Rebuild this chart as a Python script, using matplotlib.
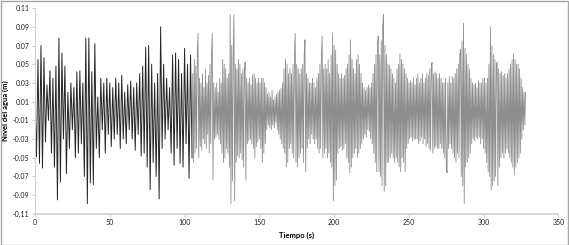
import numpy as np
import matplotlib
matplotlib.use("Agg")
import matplotlib.pyplot as plt
from matplotlib.patches import Rectangle

# water level in mm, first part sampled every 1 s (t = 0..104)
level_a = [10, -49, 55, -56, 70, -61, 57, -33, 28, -10,
           43, -45, 35, -60, 48, -95, 78, -76, 62, -30,
           48, -67, 20, -40, 30, -20, 25, -50, 42, -45,
           43, -35, 30, -70, 78, -99, 78, -77, 42, -79,
           72, -40, 15, -50, 35, -20, 30, -45, 35, -25,
           30, -38, 25, -30, 35, -25, 30, -40, 38, -30,
           20, -35, 28, -20, 32, -30, 25, -42, 30, -25,
           40, -48, 48, -45, 68, -60, 70, -84, 50, -55,
           30, -70, 40, -94, 90, -40, 50, -30, 35, -20,
           25, -45, 60, -58, 62, -40, 55, -56, 40, -60,
           67, -35, 50, -72, 60]

# second part sampled every 0.5 s, one list per chunk
level_b1 = [-50, 40, -55, 55, -45, 48, -40, 60, 83, -50,
            35, -38, 30, -42, 40, -30, 25, -35, 45, -40,
            30, -25, 38, -45, 50, -35, 60, 83, -74, 30,
            -30, 25, -28, 30, -25, 20, -30, 35, -35, 30,
            -45, 55, -55, 50, -50, 45, -40, 35, -45, 40,
            -60, 103, -99, 70, -75, 60, 103, -96, 50, -55,
            45, -48, 55, -50, 50, -45, 40, -52, 45, -60,
            40, 52, -74, 35, -35, 30, -32, 35, -30, 28,
            -35, 38, -40, 40, -50, 35, -38, 30, -33, 35,
            -30, 30, -40, 35, -55, 35, -45, 30, -35, 25]
level_b2 = [-20, 18, -15, 20, -18, 15, -20, 22, -15, 12,
            -18, 15, -12, 18, -20, 20, -25, 22, -30, 24,
            -35, 30, -40, 45, -45, 56, -60, 50, -55, 40,
            -40, 45, -35, 40, -45, 50, -50, 60, 83, -55,
            50, -60, 45, -50, 40, -45, 45, -40, 50, -55,
            60, 76, -65, 40, -40, 35, -30, 30, -35, 30,
            -25, 35, -30, 30, -35, 25, -30, 35, -40, 40,
            -45, 50, -40, 60, 80, -50, 45, -45, 50, -40,
            45, -50, 55, -45, 40, -55, 60, -60, 83, -96,
            70, -80, 65, -74, 50, -45, 40, -40, 35, -38]
level_b3 = [40, -42, 35, -40, 38, -35, 45, -50, 50, -55,
            60, -66, 76, -60, 55, -50, 45, -45, 40, -40,
            55, -50, 60, -45, 50, -40, 40, -35, 30, -30,
            25, -25, 22, -28, 25, -20, 28, -22, 25, -30,
            30, -35, 40, -45, 50, -55, 60, -65, 70, 80,
            -65, 60, -70, 75, -80, 90, 103, -86, 70, -80,
            60, -55, 50, -55, 49, -50, 45, -45, 40, -50,
            35, -55, 30, -50, 45, -55, 50, -60, 61, -65,
            55, -50, 50, -55, 45, -65, 40, -40, 35, -35,
            30, -30, 32, -28, 30, -32, 35, -30, 28, -30]
level_b4 = [35, -30, 40, -35, 30, -32, 35, -28, 40, -35,
            30, -30, 35, -38, 40, -35, 38, -40, 45, -42,
            50, 52, -45, 40, -40, 42, -38, 40, -40, 35,
            -40, 40, -35, 35, -40, 30, -45, 30, -50, 35,
            -60, -66, 30, -40, 37, -35, 30, -40, 37, -45,
            35, -50, 40, -55, 45, -45, 50, -50, 60, 66,
            -70, 75, -80, 94, -99, 67, -60, 60, -55, 50,
            -50, 45, -45, 35, -35, 30, -30, 28, -32, 30,
            -28, 25, -30, 32, -28, 30, -35, 30, -30, 35,
            -40, 35, -45, 30, -55, 35, -65, 50, -70, 90]
level_b5 = [-85, 70, -80, 60, -75, 55, -70, 50, 52, -80,
            45, -60, 40, -50, 42, -45, 38, -50, 40, -45,
            35, -40, 40, -45, 45, -50, 50, -55, 55, -60,
            61, -68, 55, -60, 50, -55, 50, -50, 45, -45,
            35, -30, 25, -20, 20, -15, 20]

x_ticks = [0, 50, 100, 150, 200, 250, 300, 350]
y_ticks = [-0.11, -0.09, -0.07, -0.05, -0.03, -0.01, 0.01, 0.03, 0.05, 0.07, 0.09, 0.11]

plt.rcParams['font.family'] = ['Lato', 'DejaVu Sans']

t_a = np.arange(len(level_a)) * 1.0
level_b = level_b1 + level_b2 + level_b3 + level_b4 + level_b5
t_b = 105.0 + np.arange(len(level_b)) * 0.5
h_a = np.array(level_a) / 1000.0
h_b = np.array(level_b) / 1000.0

fig = plt.figure(figsize=(5.69, 2.45), dpi=100)
ax = fig.add_axes([0.0615, 0.127, 0.92, 0.84])

# dense part renders lighter in the original, so draw it in grey
ax.plot(np.append(t_a, t_b[0]), np.append(h_a, h_b[0]), color='#262626', lw=0.7)
ax.plot(t_b, h_b, color='#8e8e8e', lw=0.6)

ax.set_xlim(0, 350)
ax.set_ylim(-0.11, 0.11)
ax.set_xticks(x_ticks)
ax.set_yticks(y_ticks)
ax.set_yticklabels([f"{v:.2f}" for v in y_ticks])
ax.tick_params(labelsize=5, length=2, width=0.6, color='#bfbfbf', pad=2, labelcolor='#202020')

for side in ['top', 'right']:
    ax.spines[side].set_visible(False)
ax.spines['left'].set_color('#d0d0d0')
ax.spines['bottom'].set_color('#d0d0d0')
ax.spines['bottom'].set_linewidth(1.2)

ax.set_xlabel('Tiempo (s)', fontsize=5.5, fontweight='bold', labelpad=4)
ax.set_ylabel('Nivel del agua (m)', fontsize=5.5, fontweight='bold', labelpad=3)

fig.patches.append(Rectangle((0.001, 0.002), 0.997, 0.995, transform=fig.transFigure,
                             fill=False, edgecolor='#a6a6a6', lw=1))

fig.savefig('out.png', dpi=100)
